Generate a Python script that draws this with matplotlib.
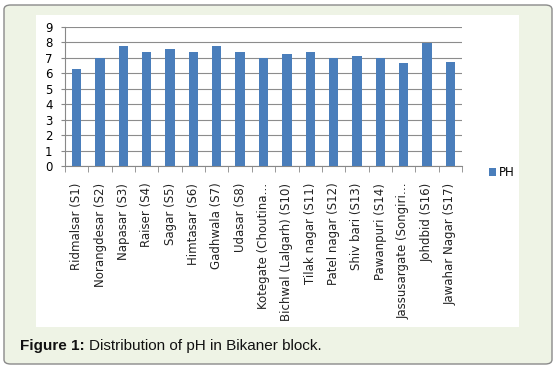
import matplotlib.pyplot as plt
import numpy as np
from matplotlib.patches import FancyBboxPatch, Rectangle

# data
sites = ['Ridmalsar (S1)', 'Norangdesar (S2)', 'Napasar (S3)', 'Raiser (S4)',
         'Sagar (S5)', 'Himtasar (S6)', 'Gadhwala (S7)', 'Udasar (S8)',
         'Kotegate (Choutina…', 'Bichwal (Lalgarh) (S10)', 'Tilak nagar (S11)',
         'Patel nagar (S12)', 'Shiv bari (S13)', 'Pawanpuri (S14)',
         'Jassusargate (Songiri…', 'Johdbid (S16)', 'Jawahar Nagar (S17)']
ph = [6.25, 7.0, 7.8, 7.4, 7.55, 7.4, 7.8, 7.4, 7.0,
      7.25, 7.4, 7.0, 7.1, 7.0, 6.7, 7.95, 6.75]
yticks = list(range(0, 10))

W, H = 557, 368
fig = plt.figure(figsize=(W / 100, H / 100), dpi=100)

# outer panel and white chart area (behind the axes)
fig.patches.append(FancyBboxPatch((4 / W, 4 / H), 548 / W, 359 / H,
                                  boxstyle='round,pad=0,rounding_size=0.012',
                                  transform=fig.transFigure, facecolor='#eef3e5',
                                  edgecolor='#8a8a8a', linewidth=1.0, zorder=-2))
fig.patches.append(Rectangle((36 / W, 1 - 327 / H), 483 / W, 312 / H,
                             transform=fig.transFigure, facecolor='white',
                             edgecolor='none', zorder=-1))

ax = fig.add_axes([65 / W, 1 - 166 / H, 397 / W, 139 / H])
ax.patch.set_alpha(0)
x = np.arange(len(sites))
ax.bar(x, ph, width=0.4, color='#4a7ebb', label='PH', zorder=3)

ax.set_xlim(-0.5, len(sites) - 0.5)
ax.set_ylim(0, 9)
ax.set_yticks(yticks)
ax.tick_params(axis='y', labelsize=8.5, length=3, color='#888888', pad=6)
ax.set_xticks(x)
ax.set_xticklabels(sites, rotation=90, fontsize=8.5, color='#222222')
ax.tick_params(axis='x', length=0, pad=12)
ax.set_xticks(np.arange(-0.5, len(sites)), minor=True)
ax.tick_params(axis='x', which='minor', length=4, color='#888888')
ax.grid(axis='y', color='#8c8c8c', linewidth=0.8, zorder=0)
for s in ['top', 'right']:
    ax.spines[s].set_visible(False)
for s in ['left', 'bottom']:
    ax.spines[s].set_color('#888888')

ax.legend(loc='center left', bbox_to_anchor=(478 / W, 1 - 173 / H),
          bbox_transform=fig.transFigure, frameon=False, fontsize=8.5,
          handlelength=0.6, handleheight=0.7, handletextpad=0.3)

fig.text(20 / W, 1 - 346 / H, 'Figure 1:', fontsize=11, fontweight='bold',
         family='Liberation Sans', va='center', color='#111111')
fig.text(89 / W, 1 - 346 / H, 'Distribution of pH in Bikaner block.',
         fontsize=11, family='Liberation Sans', va='center', color='#111111')

fig.savefig('out.png', dpi=100)
